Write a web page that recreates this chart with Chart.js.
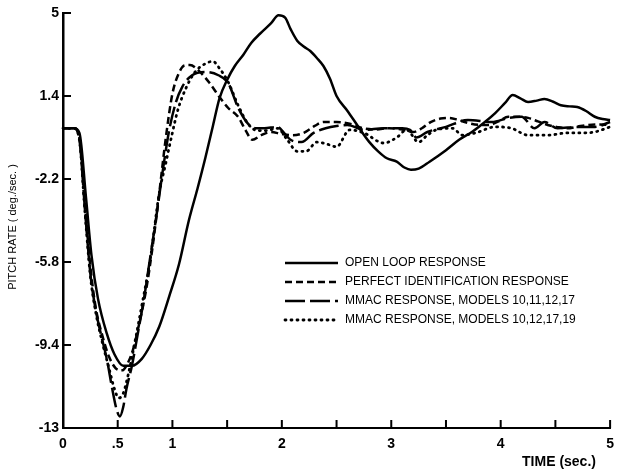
<!DOCTYPE html>
<html>
<head>
<meta charset="utf-8">
<script src="https://cdn.jsdelivr.net/npm/chart.js@4.4.0/dist/chart.umd.min.js"></script>
<style>
  html, body { margin: 0; padding: 0; background: #fff; }
  #wrap { width: 622px; height: 476px; position: relative; }
</style>
</head>
<body>
<div id="wrap"><canvas id="pitch-canvas"></canvas></div>
<script>
// time (sec.) / pitch rate (deg./sec.) pairs for each response
const openLoopTime = [0, 0.1, 0.15, 0.21, 0.26, 0.32, 0.4, 0.47, 0.55, 0.63, 0.72, 0.8, 0.88, 0.97, 1.06, 1.15, 1.23, 1.3, 1.37, 1.43, 1.5, 1.57, 1.65, 1.72, 1.8, 1.9, 1.97, 2.03, 2.08, 2.14, 2.2, 2.26, 2.32, 2.38, 2.44, 2.5, 2.6, 2.7, 2.8, 2.88, 2.96, 3.05, 3.12, 3.18, 3.25, 3.35, 3.5, 3.62, 3.74, 3.85, 3.95, 4.04, 4.11, 4.18, 4.25, 4.33, 4.4, 4.48, 4.55, 4.63, 4.7, 4.78, 4.86, 4.93, 5.0];
const openLoopRate = [0, 0, -0.2, -3.0, -5.5, -7.4, -8.9, -9.8, -10.3, -10.3, -10.0, -9.4, -8.6, -7.3, -5.9, -4.0, -2.6, -1.3, 0.1, 1.3, 2.1, 2.7, 3.2, 3.7, 4.1, 4.55, 4.9, 4.8, 4.3, 3.8, 3.55, 3.35, 3.05, 2.7, 2.15, 1.4, 0.75, 0.06, -0.6, -1.0, -1.3, -1.45, -1.7, -1.8, -1.75, -1.45, -0.95, -0.5, -0.15, 0.25, 0.66, 1.1, 1.44, 1.3, 1.14, 1.2, 1.27, 1.15, 1.0, 0.95, 0.92, 0.75, 0.5, 0.4, 0.36];

const perfectTime = [0, 0.1, 0.15, 0.2, 0.25, 0.3, 0.36, 0.42, 0.48, 0.54, 0.59, 0.64, 0.7, 0.76, 0.82, 0.88, 0.94, 1.0, 1.06, 1.11, 1.16, 1.24, 1.34, 1.43, 1.51, 1.6, 1.67, 1.73, 1.81, 1.9, 2.0, 2.1, 2.2, 2.3, 2.38, 2.5, 2.62, 2.74, 2.86, 2.98, 3.1, 3.2, 3.28, 3.36, 3.45, 3.53, 3.62, 3.7, 3.8, 3.89, 3.98, 4.07, 4.16, 4.25, 4.34, 4.43, 4.52, 4.61, 4.7, 4.79, 4.9, 5.0];
const perfectRate = [0, 0, -0.4, -3.3, -6.0, -7.8, -9.0, -9.9, -10.4, -10.5, -10.2, -9.6, -8.4, -7.0, -5.1, -2.8, -0.4, 1.5, 2.4, 2.72, 2.74, 2.5, 1.96, 1.36, 0.88, 0.5, -0.1, -0.5, -0.3, -0.16, -0.25, -0.3, -0.2, 0.1, 0.27, 0.27, 0.2, 0.0, -0.05, 0.0, -0.05, -0.16, 0.0, 0.27, 0.42, 0.45, 0.35, 0.23, 0.15, 0.14, 0.3, 0.5, 0.5, 0.45, 0.3, 0.14, 0.05, 0.0, 0.07, 0.14, 0.16, 0.14];

const mmacATime = [0, 0.1, 0.15, 0.2, 0.25, 0.3, 0.35, 0.4, 0.45, 0.49, 0.52, 0.55, 0.58, 0.63, 0.68, 0.74, 0.8, 0.86, 0.91, 0.97, 1.03, 1.09, 1.18, 1.3, 1.42, 1.51, 1.6, 1.69, 1.76, 1.84, 1.96, 2.02, 2.08, 2.18, 2.29, 2.4, 2.5, 2.6, 2.75, 2.93, 3.1, 3.17, 3.23, 3.33, 3.5, 3.7, 3.92, 4.07, 4.19, 4.31, 4.4, 4.52, 4.7, 4.86, 5.0];
const mmacARate = [0, 0, -0.5, -3.5, -6.3, -7.9, -9.0, -10.0, -11.3, -12.2, -12.5, -12.1, -11.3, -10.3, -9.0, -7.4, -5.5, -3.6, -1.9, -0.1, 1.1, 1.8, 2.3, 2.44, 2.3, 1.96, 0.9, 0.2, 0.0, 0.0, 0.06, -0.2, -0.5, -0.6, -0.2, 0.0, 0.1, 0.14, -0.07, 0.0, 0.0, -0.07, -0.4, -0.16, 0.06, 0.36, 0.27, 0.45, 0.5, 0.0, 0.27, 0.0, 0.06, 0.06, 0.27];

const mmacBTime = [0, 0.1, 0.15, 0.2, 0.25, 0.3, 0.36, 0.42, 0.47, 0.51, 0.55, 0.6, 0.66, 0.72, 0.8, 0.88, 0.94, 0.99, 1.05, 1.12, 1.2, 1.3, 1.37, 1.43, 1.51, 1.6, 1.69, 1.78, 1.86, 1.96, 2.05, 2.14, 2.22, 2.32, 2.42, 2.5, 2.62, 2.75, 2.93, 3.05, 3.14, 3.25, 3.33, 3.41, 3.56, 3.65, 3.77, 3.95, 4.1, 4.25, 4.43, 4.61, 4.75, 4.86, 5.0];
const mmacBRate = [0, 0, -0.5, -3.6, -6.4, -8.0, -9.3, -10.4, -11.3, -11.7, -11.5, -10.6, -9.2, -7.7, -5.6, -2.8, -1.5, -0.4, 0.8, 1.7, 2.4, 2.8, 2.9, 2.6, 2.0, 1.0, 0.2, -0.1, -0.1, 0.0, -0.5, -1.0, -1.0, -0.6, -0.7, -0.8, -0.07, -0.2, -0.64, -0.4, -0.07, -0.6, -0.3, -0.07, 0.0, -0.3, -0.2, 0.06, 0.0, -0.3, -0.3, -0.2, -0.2, -0.16, 0.06];

const seriesNames = [
  'OPEN LOOP RESPONSE',
  'PERFECT IDENTIFICATION RESPONSE',
  'MMAC RESPONSE, MODELS 10,11,12,17',
  'MMAC RESPONSE, MODELS 10,12,17,19'
];

const xTickValues = [0, 0.5, 1, 1.5, 2, 2.5, 3, 3.5, 4, 4.5, 5];
const xTickLabels = ['0', '.5', '1', '', '2', '', '3', '', '4', '', '5'];
const yTickValues = [-13, -9.4, -5.8, -2.2, 1.4, 5];

const INK = '#000';
const tickFont = { family: 'Liberation Sans, Arial, sans-serif', size: 14, weight: 'bold' };

function toPoints(times, rates) {
  return times.map((t, i) => ({ x: t, y: rates[i] }));
}

function lineSet(label, times, rates, dash, width, cap) {
  return {
    label: label,
    data: toPoints(times, rates),
    borderColor: INK,
    borderWidth: width,
    borderDash: dash,
    borderCapStyle: cap,
    pointRadius: 0,
    cubicInterpolationMode: 'monotone',
    fill: false,
    clip: false
  };
}

// inward tick marks, axis titles and the key in the lower right
const annotate = {
  id: 'annotate',
  afterDraw(chart) {
    const { ctx, chartArea: a, scales: { x, y } } = chart;
    ctx.save();
    ctx.strokeStyle = INK;
    ctx.lineWidth = 2;
    ctx.beginPath();
    xTickValues.forEach(v => {
      const px = x.getPixelForValue(v);
      ctx.moveTo(px, a.bottom);
      ctx.lineTo(px, a.bottom - 8);
    });
    yTickValues.forEach(v => {
      const py = y.getPixelForValue(v);
      ctx.moveTo(a.left, py);
      ctx.lineTo(a.left + 8, py);
    });
    ctx.stroke();

    ctx.fillStyle = INK;
    ctx.textBaseline = 'middle';

    // y title
    ctx.save();
    ctx.translate(13, 227);
    ctx.rotate(-Math.PI / 2);
    ctx.textAlign = 'center';
    ctx.font = '11px "Liberation Sans", Arial, sans-serif';
    ctx.fillText('PITCH RATE ( deg./sec. )', 0, 0);
    ctx.restore();

    // x title
    ctx.textAlign = 'center';
    ctx.font = 'bold 14px "Liberation Sans", Arial, sans-serif';
    ctx.fillText('TIME (sec.)', 559, 462);

    // key
    ctx.textAlign = 'left';
    ctx.font = '12px "Liberation Sans", Arial, sans-serif';
    chart.data.datasets.forEach((ds, i) => {
      const ry = 263 + i * 19;
      ctx.save();
      ctx.lineWidth = ds.borderWidth;
      ctx.setLineDash(ds.borderDash);
      ctx.lineCap = ds.borderCapStyle;
      ctx.beginPath();
      ctx.moveTo(285, ry);
      ctx.lineTo(338, ry);
      ctx.stroke();
      ctx.restore();
      ctx.fillText(ds.label, 345, ry);
    });
    ctx.restore();
  }
};

new Chart(document.getElementById('pitch-canvas'), {
  type: 'line',
  data: {
    datasets: [
      lineSet(seriesNames[0], openLoopTime, openLoopRate, [], 2.5, 'butt'),
      lineSet(seriesNames[1], perfectTime, perfectRate, [7, 4], 2.5, 'butt'),
      lineSet(seriesNames[2], mmacATime, mmacARate, [20, 5], 2.5, 'butt'),
      lineSet(seriesNames[3], mmacBTime, mmacBRate, [1, 5], 2.8, 'round')
    ]
  },
  options: {
    responsive: true,
    maintainAspectRatio: false,
    animation: false,
    layout: { padding: { left: 0, right: 6, top: 13, bottom: 0 } },
    plugins: {
      legend: { display: false },
      tooltip: { enabled: false }
    },
    scales: {
      x: {
        type: 'linear',
        min: 0,
        max: 5,
        afterBuildTicks: s => { s.ticks = xTickValues.map(v => ({ value: v })); },
        afterFit: s => { s.height = 48; },
        ticks: {
          autoSkip: false,
          maxRotation: 0,
          padding: 8,
          color: INK,
          font: tickFont,
          callback: (v, i) => xTickLabels[i]
        },
        grid: { display: false, drawTicks: false },
        border: { color: INK, width: 2 }
      },
      y: {
        min: -13,
        max: 5,
        afterBuildTicks: s => { s.ticks = yTickValues.map(v => ({ value: v })); },
        afterFit: s => { s.width = 63; },
        ticks: {
          padding: 4,
          color: INK,
          font: tickFont,
          callback: v => String(v)
        },
        grid: { display: false, drawTicks: false },
        border: { color: INK, width: 2.5 }
      }
    }
  },
  plugins: [annotate]
});
</script>
</body>
</html>
